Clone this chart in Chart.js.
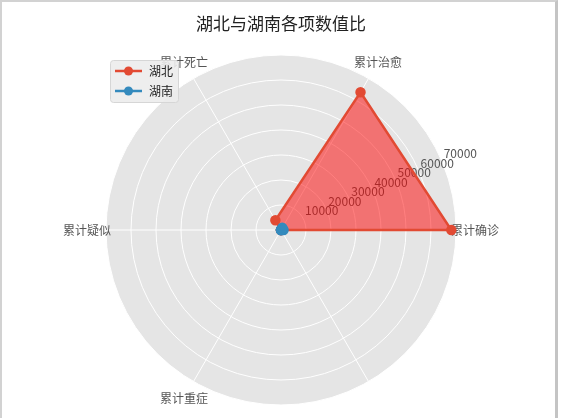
<!DOCTYPE html>
<html>
<head>
<meta charset="utf-8">
<script src="https://cdn.jsdelivr.net/npm/chart.js@4/dist/chart.umd.min.js"></script>
<style>
    html, body { margin: 0; padding: 0; background: #fff; }
    #wrap { position: relative; width: 561px; height: 418px; }
    #frame {
        position: absolute; left: 0; top: 0; width: 558px; height: 418px;
        border-left: 2px solid #d2d2d2; border-top: 2px solid #d2d2d2; border-right: 3px solid #c4c4c4;
        box-sizing: border-box; pointer-events: none;
    }
</style>
</head>
<body>
<div id="wrap">
    <canvas id="radarChart"></canvas>
    <div id="frame"></div>
</div>
<script>
// === DATOS (orden de matplotlib: antihorario desde la derecha) ===
const categorias = ['累计确诊', '累计治愈', '累计死亡', '累计疑似', '累计重症', ''];
const hubei = [68128, 63616, 4512, 0, 0, 0];
const hunan = [1019, 1015, 4, 0, 0, 0];
const provincias = ['湖北', '湖南'];
const ticksRadiales = [10000, 20000, 30000, 40000, 50000, 60000, 70000];
const titulo = '湖北与湖南各项数值比';

// Chart.js gira en sentido horario, así que se reordena: 0, 5, 4, 3, 2, 1
const orden = [0, 5, 4, 3, 2, 1];
const etiquetas = orden.map(i => categorias[i]);
const datosHubei = orden.map(i => hubei[i]);
const datosHunan = orden.map(i => hunan[i]);

const FUENTE = '"Noto Sans CJK SC", "Noto Sans", sans-serif';

// Textos al estilo matplotlib: título, etiquetas de ángulos, ticks y leyenda
const estiloMpl = {
    id: 'estiloMpl',
    beforeDatasetsDraw(chart) {
        const ctx = chart.ctx;
        const r = chart.scales.r;
        ctx.save();
        ctx.font = '12px ' + FUENTE;
        ctx.fillStyle = '#555555';

        // etiquetas radiales a 22.5°
        const ang = 22.5 * Math.PI / 180;
        ctx.textAlign = 'left';
        ctx.textBaseline = 'alphabetic';
        ticksRadiales.forEach(v => {
            const d = r.getDistanceFromCenterForValue(v);
            const x = r.xCenter + d * Math.cos(ang);
            const y = r.yCenter - d * Math.sin(ang);
            ctx.fillText(String(v), x + 1, y - 5);
        });

        // etiquetas de categorías
        ctx.textAlign = 'center';
        ctx.textBaseline = 'middle';
        etiquetas.forEach((lab, i) => {
            if (!lab) return;
            const p = r.getPointPosition(i, r.drawingArea + 19);
            ctx.fillText(lab, p.x, p.y);
        });
        ctx.restore();
    },
    afterDraw(chart) {
        const ctx = chart.ctx;
        ctx.save();

        // título
        ctx.font = '17px ' + FUENTE;
        ctx.fillStyle = '#222222';
        ctx.textAlign = 'center';
        ctx.textBaseline = 'middle';
        ctx.fillText(titulo, 281, 24);

        // leyenda
        const bx = 110.5, by = 60.5, bw = 68, bh = 42;
        ctx.beginPath();
        ctx.roundRect(bx, by, bw, bh, 3);
        ctx.fillStyle = 'rgba(236,236,236,0.9)';
        ctx.fill();
        ctx.strokeStyle = '#d6d6d6';
        ctx.lineWidth = 1;
        ctx.stroke();

        ctx.font = '12px ' + FUENTE;
        ctx.textAlign = 'left';
        ctx.textBaseline = 'middle';
        chart.data.datasets.forEach((ds, i) => {
            const y = 71 + i * 20;
            ctx.strokeStyle = ds.borderColor;
            ctx.lineWidth = 2.5;
            ctx.beginPath();
            ctx.moveTo(115, y);
            ctx.lineTo(142, y);
            ctx.stroke();
            ctx.fillStyle = ds.pointBackgroundColor;
            ctx.beginPath();
            ctx.arc(128.5, y, 4.5, 0, Math.PI * 2);
            ctx.fill();
            ctx.fillStyle = '#222222';
            ctx.fillText(ds.label, 149, y);
        });
        ctx.restore();
    }
};

document.addEventListener('DOMContentLoaded', function() {
    const ctx = document.getElementById('radarChart').getContext('2d');
    new Chart(ctx, {
        type: 'radar',
        data: {
            labels: etiquetas,
            datasets: [{
                label: provincias[0],
                data: datosHubei,
                borderColor: '#E24A33',
                backgroundColor: 'rgba(255,0,0,0.5)',
                pointBackgroundColor: '#E24A33',
                pointBorderColor: '#E24A33',
                pointRadius: 4,
                borderWidth: 2.5,
                fill: true,
                order: 1
            }, {
                label: provincias[1],
                data: datosHunan,
                borderColor: '#348ABD',
                backgroundColor: 'rgba(52,138,189,0.5)',
                pointBackgroundColor: '#348ABD',
                pointBorderColor: '#348ABD',
                pointRadius: 4,
                borderWidth: 2.5,
                fill: true,
                order: 0
            }]
        },
        options: {
            responsive: true,
            maintainAspectRatio: false,
            animation: false,
            layout: { padding: { left: 1, right: 0, top: 55, bottom: 13 } },
            plugins: {
                legend: { display: false },
                title: { display: false },
                tooltip: { enabled: false }
            },
            elements: { line: { tension: 0 } },
            scales: {
                r: {
                    min: 0,
                    max: 70000,
                    startAngle: 90,
                    backgroundColor: '#E5E5E5',
                    ticks: { display: false, stepSize: 10000 },
                    pointLabels: { display: false },
                    grid: { circular: true, color: '#FFFFFF', lineWidth: 1 },
                    angleLines: { color: '#FFFFFF', lineWidth: 1 }
                }
            }
        },
        plugins: [estiloMpl]
    });
});
</script>
</body>
</html>
